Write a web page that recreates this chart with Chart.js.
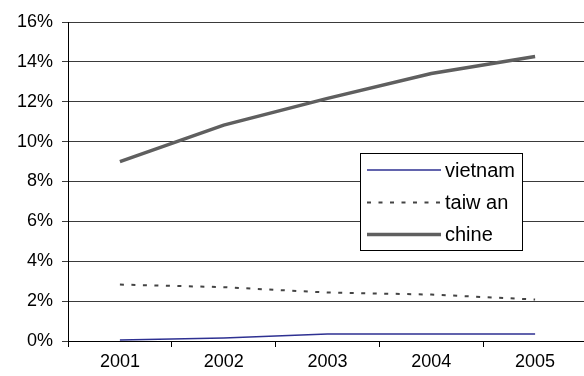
<!DOCTYPE html>
<html>
<head>
<meta charset="utf-8">
<script src="https://cdn.jsdelivr.net/npm/chart.js@4"></script>
<style>
  html, body { margin: 0; padding: 0; background: #fff; overflow: hidden; }
  #wrap { width: 590px; height: 376px; }
</style>
</head>
<body>
<div id="wrap"><canvas id="c" width="590" height="376"></canvas></div>
<script>
// Years on the category axis
const years = ['2001', '2002', '2003', '2004', '2005'];

// Share per country, in percent
const vietnam = [0.05, 0.15, 0.35, 0.35, 0.35];
const taiwan  = [2.83, 2.7, 2.43, 2.33, 2.08];
const chine   = [9.0, 10.83, 12.17, 13.42, 14.27];

// Legend labels and value-axis range
const seriesNames = ['vietnam', 'taiw an', 'chine'];
const yMin = 0, yMax = 16, yStep = 2;

const FONT = { family: '"Liberation Sans", Arial, sans-serif', size: 18 };
const LEGEND_FONT_SIZE = 20;

// Boxed legend drawn inside the plot, right of centre
const boxLegend = {
  id: 'boxLegend',
  afterDraw(chart) {
    const ctx = chart.ctx;
    const x = 360.5, y = 153.5, w = 162, h = 97;
    ctx.save();
    ctx.fillStyle = '#fff';
    ctx.fillRect(x, y, w, h);
    ctx.strokeStyle = '#000';
    ctx.lineWidth = 1;
    ctx.setLineDash([]);
    ctx.strokeRect(x, y, w, h);
    const rows = [170, 202.5, 234.5];
    chart.data.datasets.forEach((ds, i) => {
      ctx.beginPath();
      ctx.strokeStyle = ds.borderColor;
      ctx.lineWidth = ds.borderWidth;
      ctx.setLineDash(ds.borderDash || []);
      ctx.moveTo(367, rows[i]);
      ctx.lineTo(441, rows[i]);
      ctx.stroke();
      ctx.setLineDash([]);
      ctx.fillStyle = '#000';
      ctx.font = LEGEND_FONT_SIZE + 'px ' + FONT.family;
      ctx.textBaseline = 'middle';
      ctx.textAlign = 'left';
      ctx.fillText(ds.label, 445, rows[i] + 1);
    });
    ctx.restore();
  }
};

new Chart(document.getElementById('c'), {
  type: 'line',
  data: {
    labels: years,
    datasets: [
      { label: seriesNames[0], data: vietnam, borderColor: '#2e3192', borderWidth: 1.5,
        pointRadius: 0, tension: 0 },
      { label: seriesNames[1], data: taiwan, borderColor: '#444', borderWidth: 2,
        borderDash: [4, 7.5], pointRadius: 0, tension: 0 },
      { label: seriesNames[2], data: chine, borderColor: '#5f5f5f', borderWidth: 3.5,
        pointRadius: 0, tension: 0 }
    ]
  },
  options: {
    responsive: false,
    animation: false,
    layout: { padding: { left: 0, right: 3, top: 22, bottom: 0 } },
    plugins: { legend: { display: false }, tooltip: { enabled: false } },
    scales: {
      x: {
        offset: true,
        grid: { offset: true, drawOnChartArea: false, color: '#000', tickLength: 6 },
        border: { color: '#000', width: 1 },
        ticks: { color: '#000', font: FONT, padding: 4, maxRotation: 0 },
        afterFit(s) { s.height = 35; }
      },
      y: {
        min: yMin, max: yMax,
        grid: { color: '#3a3a3a', lineWidth: 1, tickLength: 6 },
        border: { color: '#000', width: 1 },
        ticks: { stepSize: yStep, color: '#000', font: FONT, padding: 9,
                 callback: v => v + '%' },
        afterFit(s) { s.width = 68; }
      }
    }
  },
  plugins: [boxLegend]
});
</script>
</body>
</html>
